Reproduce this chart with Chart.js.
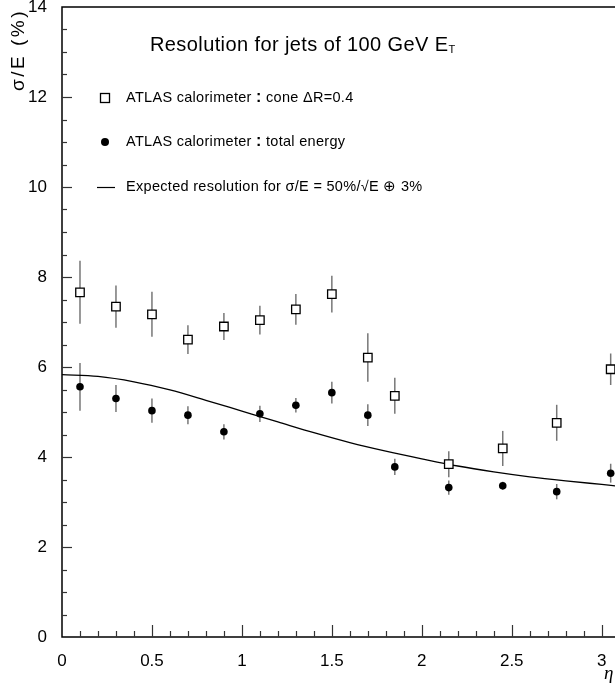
<!DOCTYPE html>
<html>
<head>
<meta charset="utf-8">
<script src="https://cdn.jsdelivr.net/npm/chart.js@4.4.0/dist/chart.umd.min.js"></script>
<style>
  html, body { margin: 0; padding: 0; background: #fff; overflow: hidden; }
  canvas { display: block; }
</style>
</head>
<body>
<canvas id="resChart" width="615" height="687"></canvas>
<script>
// eta bin centres shared by both measured series
const etaBins = [0.1, 0.3, 0.5, 0.7, 0.9, 1.1, 1.3, 1.5, 1.7, 1.85, 2.15, 2.45, 2.75, 3.05];

// ATLAS calorimeter, cone dR=0.4
const coneRes = [7.66, 7.34, 7.17, 6.61, 6.90, 7.04, 7.28, 7.62, 6.21, 5.36, 3.84, 4.19, 4.76, 5.95];
const coneErr = [0.70, 0.47, 0.50, 0.32, 0.30, 0.32, 0.34, 0.41, 0.54, 0.40, 0.29, 0.39, 0.40, 0.35];

// ATLAS calorimeter, total energy
const totalRes = [5.56, 5.30, 5.03, 4.93, 4.56, 4.96, 5.15, 5.43, 4.93, 3.78, 3.32, 3.36, 3.23, 3.64];
const totalErr = [0.53, 0.30, 0.27, 0.20, 0.17, 0.18, 0.16, 0.24, 0.24, 0.18, 0.16, 0.09, 0.17, 0.21];

// expected resolution curve
const expEta = [0, 0.2, 0.4, 0.6, 0.8, 1.0, 1.2, 1.4, 1.6, 1.8, 2.0, 2.2, 2.4, 2.6, 2.8, 3.0, 3.1];
const expRes = [5.83, 5.79, 5.67, 5.49, 5.26, 5.02, 4.78, 4.54, 4.32, 4.13, 3.96, 3.80, 3.67, 3.56, 3.47, 3.39, 3.35];

const xTickStep = 0.5;
const yTickStep = 2;

const toPoints = (xs, ys) => xs.map((x, i) => ({ x: x, y: ys[i] }));

const FONT = '"Liberation Sans", Arial, sans-serif';

// vertical error bars, drawn under the markers
const errorBars = {
  id: 'errorBars',
  beforeDatasetsDraw(chart) {
    const { ctx, scales: { x, y } } = chart;
    ctx.save();
    ctx.strokeStyle = '#777';
    ctx.lineWidth = 1.5;
    chart.data.datasets.forEach(ds => {
      if (!ds.errors) return;
      ds.data.forEach((p, i) => {
        const px = x.getPixelForValue(p.x);
        ctx.beginPath();
        ctx.moveTo(px, y.getPixelForValue(p.y - ds.errors[i]));
        ctx.lineTo(px, y.getPixelForValue(p.y + ds.errors[i]));
        ctx.stroke();
      });
    });
    ctx.restore();
  }
};

// frame with inward ticks, like the original plot
const frame = {
  id: 'frame',
  afterDatasetsDraw(chart) {
    const { ctx, chartArea: a, scales: { x, y } } = chart;
    ctx.save();
    ctx.strokeStyle = '#000';
    ctx.lineWidth = 1.5;
    ctx.beginPath();
    ctx.moveTo(a.right, a.top);
    ctx.lineTo(a.left, a.top);
    ctx.lineTo(a.left, a.bottom);
    ctx.lineTo(a.right, a.bottom);
    ctx.stroke();

    ctx.lineWidth = 1.2;
    ctx.strokeStyle = '#333';
    for (let i = 1; i * 0.1 <= x.max + 1e-9; i++) {
      const px = Math.round(x.getPixelForValue(i * 0.1)) + 0.5;
      const len = i % 5 === 0 ? 12 : 6;
      ctx.beginPath();
      ctx.moveTo(px, a.bottom);
      ctx.lineTo(px, a.bottom - len);
      ctx.stroke();
    }
    for (let j = 1; j * 0.5 < y.max; j++) {
      const py = Math.round(y.getPixelForValue(j * 0.5)) + 0.5;
      const len = j % 4 === 0 ? 10 : 5;
      ctx.beginPath();
      ctx.moveTo(a.left, py);
      ctx.lineTo(a.left + len, py);
      ctx.stroke();
    }
    ctx.restore();
  }
};

// draw text pieces one after another, returns end x
function drawPieces(ctx, pieces, x0, yc) {
  let cx = x0;
  pieces.forEach(p => {
    ctx.font = p.font;
    ctx.fillText(p.text, cx, yc + (p.dy || 0));
    cx += ctx.measureText(p.text).width;
  });
  return cx;
}

const labels = {
  id: 'labels',
  afterDraw(chart) {
    const ctx = chart.ctx;
    const ds = chart.data.datasets;
    ctx.save();
    ctx.fillStyle = '#000';
    ctx.textBaseline = 'middle';
    ctx.textAlign = 'left';

    // title
    ctx.letterSpacing = '0.4px';
    drawPieces(ctx, [
      { text: 'Resolution for jets of 100 GeV E', font: '20px ' + FONT },
      { text: 'T', font: '11px ' + FONT, dy: 5 }
    ], 150, 45);
    ctx.letterSpacing = '0.3px';

    // legend
    const lx = 105, tx = 126;
    const legFont = '14.5px ' + FONT;
    const boldColon = 'bold 16px ' + FONT;

    ctx.fillStyle = '#fff';
    ctx.strokeStyle = '#000';
    ctx.lineWidth = 1.3;
    ctx.fillRect(lx - 4.5, 98 - 4.5, 9, 9);
    ctx.strokeRect(lx - 4.5, 98 - 4.5, 9, 9);
    ctx.fillStyle = '#000';
    drawPieces(ctx, [
      { text: ds[1].label.split(':')[0], font: legFont },
      { text: ':', font: boldColon },
      { text: ds[1].label.split(':')[1], font: legFont }
    ], tx, 98);

    ctx.beginPath();
    ctx.arc(lx, 142, 4, 0, Math.PI * 2);
    ctx.fill();
    drawPieces(ctx, [
      { text: ds[2].label.split(':')[0], font: legFont },
      { text: ':', font: boldColon },
      { text: ds[2].label.split(':')[1], font: legFont }
    ], tx, 142);

    ctx.lineWidth = 1.2;
    ctx.beginPath();
    ctx.moveTo(97, 187.5);
    ctx.lineTo(115, 187.5);
    ctx.stroke();
    drawPieces(ctx, [{ text: ds[0].label, font: legFont }], tx, 187);

    // y axis title
    ctx.save();
    ctx.translate(19, 50);
    ctx.rotate(-Math.PI / 2);
    ctx.textAlign = 'center';
    ctx.letterSpacing = '2.5px';
    ctx.font = '19px ' + FONT;
    ctx.fillText('σ/E (%)', 0, 0);
    ctx.restore();

    // x axis title
    ctx.letterSpacing = '0px';
    ctx.font = 'italic 19px "Liberation Serif", serif';
    ctx.fillText('η', 604, 674);
    ctx.restore();
  }
};

const chart = new Chart(document.getElementById('resChart'), {
  type: 'scatter',
  data: {
    datasets: [{
      label: 'Expected resolution for σ/E = 50%/√E ⊕ 3%',
      data: toPoints(expEta, expRes),
      showLine: true,
      borderColor: '#000',
      borderWidth: 1.3,
      pointRadius: 0,
      cubicInterpolationMode: 'monotone',
      order: 3
    }, {
      label: 'ATLAS calorimeter : cone ΔR=0.4',
      data: toPoints(etaBins, coneRes),
      errors: coneErr,
      pointStyle: 'rect',
      pointRadius: 6,
      pointBorderWidth: 1.3,
      pointBorderColor: '#000',
      pointBackgroundColor: '#fff',
      order: 1
    }, {
      label: 'ATLAS calorimeter : total energy',
      data: toPoints(etaBins, totalRes),
      errors: totalErr,
      pointStyle: 'circle',
      pointRadius: 3.8,
      pointBorderWidth: 0,
      pointBackgroundColor: '#000',
      order: 2
    }]
  },
  options: {
    responsive: false,
    animation: false,
    devicePixelRatio: 1,
    layout: { autoPadding: false, padding: { top: 7, right: 0, left: 0, bottom: 0 } },
    plugins: {
      legend: { display: false },
      tooltip: { enabled: false }
    },
    scales: {
      x: {
        type: 'linear',
        min: 0,
        max: 3.074,
        grid: { display: false },
        border: { display: false },
        ticks: {
          stepSize: xTickStep,
          includeBounds: false,
          maxRotation: 0,
          padding: 6,
          color: '#000',
          font: { family: 'Liberation Sans', size: 17 },
          callback: v => String(Number(v.toFixed(2)))
        },
        afterFit(scale) {
          scale.height = 50;
          scale.paddingLeft = 0;
          scale.paddingRight = 0;
        }
      },
      y: {
        min: 0,
        max: 14,
        grid: { display: false },
        border: { display: false },
        ticks: {
          stepSize: yTickStep,
          padding: 7,
          color: '#000',
          font: { family: 'Liberation Sans', size: 17 }
        },
        afterFit(scale) {
          scale.width = 62;
          scale.paddingTop = 0;
          scale.paddingBottom = 0;
        }
      }
    }
  },
  plugins: [errorBars, frame, labels]
});
</script>
</body>
</html>
